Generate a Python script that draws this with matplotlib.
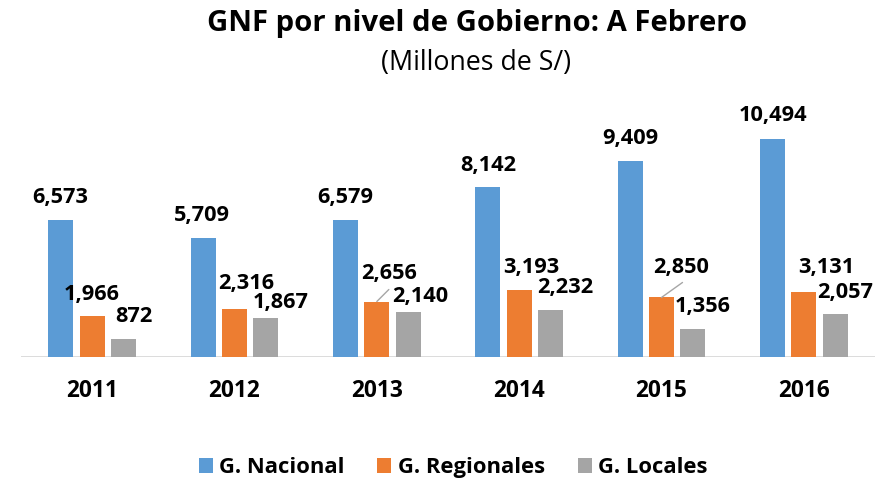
import matplotlib
matplotlib.use('Agg')
import matplotlib.pyplot as plt
import numpy as np

# ---------------- data ----------------
years = ['2011', '2012', '2013', '2014', '2015', '2016']
nacional = [6573, 5709, 6579, 8142, 9409, 10494]
regionales = [1966, 2316, 2656, 3193, 2850, 3131]
locales = [872, 1867, 2140, 2232, 1356, 2057]
series_names = ['G. Nacional', 'G. Regionales', 'G. Locales']
title = 'GNF por nivel de Gobierno: A Febrero'
subtitle = '(Millones de S/)'

# ---------------- style ----------------
colors = ['#5B9BD5', '#ED7D31', '#A5A5A5']
FONT = 'Open Sans'
# data-label offsets in pixels (dx, dy to baseline), per series per year
label_off = [
    [(-1, 17), (-1, 17), (0, 17), (0, 16), (0, 17), (0, 17.5)],
    [(0, 16), (12, 20), (12, 23), (12, 17), (20, 24), (22, 19)],
    [(10, 17), (15, 10), (12, 10), (15, 17), (10, 17), (10, 16)],
]
# leader lines (series, year index) -> end offset in pixels
leaders = {(1, 2): (12, 12), (1, 4): (21, 15)}

W, H = 879, 478
fig = plt.figure(figsize=(W / 100, H / 100), dpi=100)
renderer = fig.canvas.get_renderer()


def fit(s, target, weight='bold'):
    t = fig.text(0, 0, s, fontsize=10, family=FONT, weight=weight)
    w = t.get_window_extent(renderer).width
    t.remove()
    return 10 * target / w


ax = fig.add_axes([21 / W, (H - 356.7) / H, 854 / W, 257.7 / H])
x = np.arange(len(years))
bw = 0.174
off = 0.22
all_series = [nacional, regionales, locales]
for k, (vals, c, name) in enumerate(zip(all_series, colors, series_names)):
    ax.bar(x + (k - 1) * off, vals, bw, color=c, label=name, zorder=2)
ax.set_xlim(-0.5, len(years) - 0.5)
ax.set_ylim(0, 12400)
for s in ax.spines.values():
    s.set_visible(False)
ax.set_xticks([])
ax.set_yticks([])
ax.axhline(0, color='#D9D9D9', lw=1.3, zorder=1)

# data labels
lab_fs = fit('6,573', 56)
for k, vals in enumerate(all_series):
    for i, v in enumerate(vals):
        dx, dy = label_off[k][i]
        xb = i + (k - 1) * off
        ax.annotate(f'{v:,}', xy=(xb, v), xytext=(dx, dy), textcoords='offset pixels',
                    ha='center', va='baseline', fontsize=lab_fs, family=FONT,
                    weight='bold', color='black', annotation_clip=False)
        if (k, i) in leaders:
            lx, ly = leaders[(k, i)]
            ax.annotate('', xy=(xb, v), xytext=(lx, ly), textcoords='offset pixels',
                        arrowprops=dict(arrowstyle='-', color='#A6A6A6', lw=1,
                                        shrinkA=0, shrinkB=0), annotation_clip=False)

# category labels
yr_fs = fit('2012', 51.5)
for i, yr in enumerate(years):
    ax.annotate(yr, xy=(i, 0), xytext=(0, -40), textcoords='offset pixels',
                ha='center', va='baseline', fontsize=yr_fs, family=FONT,
                weight='bold', annotation_clip=False)

# titles
fig.text(477 / W, (H - 31.5) / H, title, ha='center', va='baseline',
         fontsize=fit(title, 542), family=FONT, weight='bold')
fig.text(476 / W, (H - 69.5) / H, subtitle, ha='center', va='baseline',
         fontsize=fit(subtitle, 190, 'normal'), family=FONT, weight='normal')

# legend
leg_fs = fit('G. Nacional', 125)
px = leg_fs * 100 / 72
handles, labels = ax.get_legend_handles_labels()
fig.legend(handles, labels, loc='center', bbox_to_anchor=(453.3 / W, (H - 467.5) / H),
           ncol=3, frameon=False, borderpad=0, borderaxespad=0,
           handlelength=14 / px, handleheight=14 / px, handletextpad=6.5 / px,
           columnspacing=32.7 / px,
           prop=dict(family=FONT, weight='bold', size=leg_fs))

fig.savefig('out.png', dpi=100)
